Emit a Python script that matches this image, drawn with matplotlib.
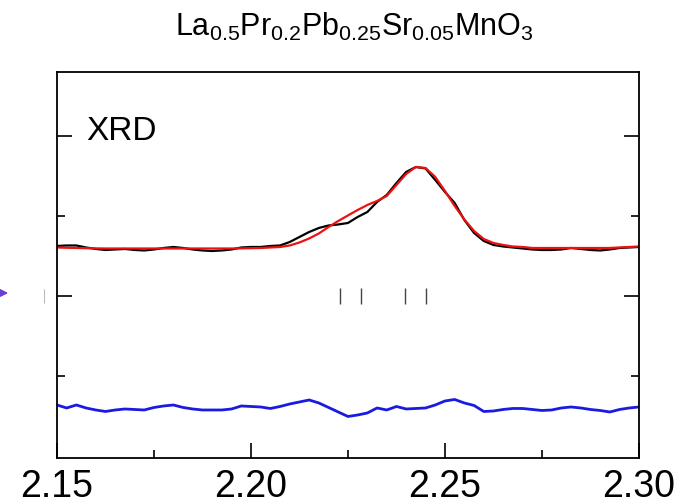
import matplotlib
matplotlib.use("Agg")
import matplotlib.pyplot as plt
import numpy as np

plt.rcParams['font.family'] = ['Liberation Sans', 'DejaVu Sans']
plt.rcParams['mathtext.fontset'] = 'custom'
plt.rcParams['mathtext.rm'] = 'Liberation Sans'

# d-spacing grid (nm), step 0.0025
d = np.round(np.arange(2.15, 2.30001, 0.0025), 4)

# observed intensity (arb. units)
obs = [50, 50.5, 50.5, 48.5, 47, 46, 46.5, 47, 46, 45.5,
       46.5, 48, 49, 48, 46.5, 45.5, 45, 45.5, 46.5, 48.5,
       49, 49, 50, 50.5, 54, 59, 64, 68, 70.5, 71.5,
       73, 79, 84, 94, 101, 113, 124, 129, 127.5, 116,
       104, 93, 76, 63, 55, 51, 49.5, 48.5, 47.5, 46.5,
       46, 46, 46.5, 48, 47, 46, 45.5, 46.5, 48, 48.5, 49]

# calculated (fit)
calc = [48.5, 48.2, 48, 47.8, 47.6, 47.5, 47.5, 47.5, 47.5, 47.5,
        47.5, 47.5, 47.5, 47.5, 47.5, 47.5, 47.5, 47.5, 47.5, 47.6,
        47.8, 48, 48.5, 49, 50.5, 53.5, 57.5, 62.5, 69, 75,
        80.5, 86, 91, 95, 100, 111, 122, 129, 128, 119,
        105, 90, 76.5, 65, 57, 53, 51, 49.5, 49, 48,
        48, 48, 48, 48, 48, 48, 48, 48, 48.5, 49, 49.5]

# difference curve (offset)
diff = [-109, -112, -109, -112, -114, -115.5, -114, -113, -113.5, -114,
        -111.5, -110, -109, -111.5, -113, -114, -114, -114, -113, -110,
        -110.5, -111, -112.5, -110.5, -108, -106, -104, -107, -111.5, -116,
        -120.5, -119, -117, -112, -114, -110.5, -113, -112.5, -112, -109,
        -105, -103.5, -107, -109.5, -115.5, -115, -113.5, -112.5, -112.5, -113.5,
        -114.5, -114, -112, -111, -112, -113.5, -114.5, -116, -113.5, -112, -111]

# Bragg reflection positions
bragg = [2.2229, 2.2284, 2.2397, 2.2451]

fig = plt.figure(figsize=(6.75, 5.04), dpi=100)
ax = fig.add_axes([0.0844, 0.0913, 0.8622, 0.7659])

ax.plot(d, obs, color='black', lw=1.6)
ax.plot(d, calc, color='#ee1111', lw=1.6)
ax.plot(d, diff, color='#1a1ae0', lw=2.0)
ax.plot(bragg, [0] * len(bragg), ls='none', marker='|', ms=12,
        mew=1.0, color='#444444')
# stray mark left of the axis
ax.plot([2.1466], [0], ls='none', marker='|', ms=10, mew=0.8,
        color='#bbbbbb', clip_on=False)

ax.set_xlim(2.15, 2.30)
ax.set_ylim(-162, 224)
ax.set_xticks([2.15, 2.20, 2.25, 2.30])
ax.set_xticklabels(['2.15', '2.20', '2.25', '2.30'])
ax.set_xticks([2.175, 2.225, 2.275], minor=True)
ax.set_yticks([0, 160])
ax.set_yticks([-80, 80], minor=True)
ax.set_yticklabels([])
ax.tick_params(axis='x', which='both', direction='in', top=False,
               labelsize=27, pad=8, width=1.2)
ax.tick_params(axis='y', which='both', direction='in', left=True, right=True,
               width=1.2)
ax.tick_params(which='major', length=11)
ax.tick_params(which='minor', length=6)
for s in ax.spines.values():
    s.set_linewidth(1.3)

fig.text(354 / 675, 1 - 36 / 504,
         r'$\mathregular{La_{0.5}Pr_{0.2}Pb_{0.25}Sr_{0.05}MnO_3}$',
         ha='center', va='baseline', fontsize=22)
fig.text(86 / 675, 1 - 140 / 504, 'XRD', ha='left', va='baseline', fontsize=24)

ax.annotate('', xy=(11, 211), xycoords='figure pixels',
            xytext=(-6, 211), textcoords='figure pixels',
            arrowprops=dict(arrowstyle='-|>', color='#6a3fd0', lw=1.2,
                            mutation_scale=12))

fig.savefig('out.png', dpi=100)
